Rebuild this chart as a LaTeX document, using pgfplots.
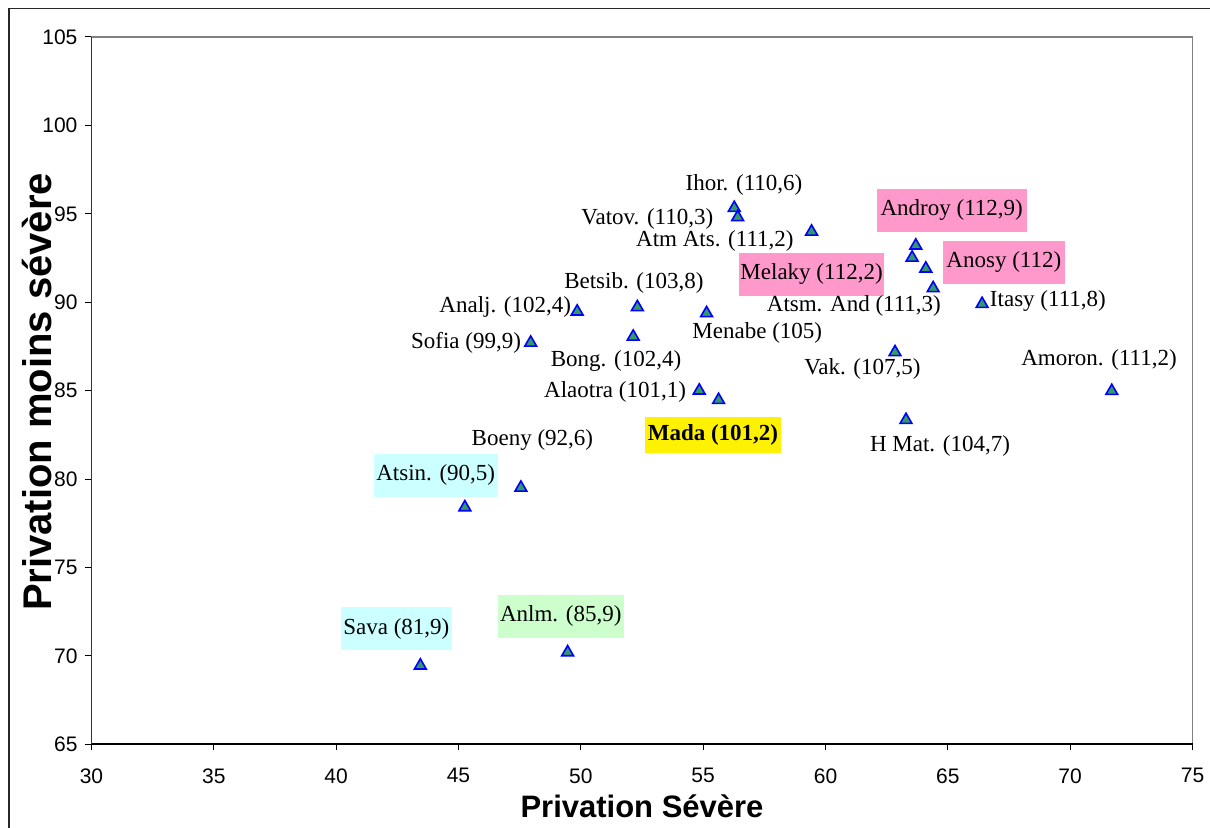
\documentclass[border=0pt]{standalone}
\usepackage{pgfplots}
\pgfplotsset{compat=1.18}
\usepackage{pgfplotstable}
\usepackage{fontspec}
\setmainfont{Liberation Serif}
\newfontfamily\arial{Liberation Sans}
\definecolor{mkgreen}{HTML}{339966}
\definecolor{pinkbox}{HTML}{FF99CC}
\definecolor{cyanbox}{HTML}{CCFFFF}
\definecolor{greenbox}{HTML}{CCFFCC}
\pgfplotstableread{
x y
56.27 95.33
56.41 94.81
59.43 93.99
63.69 93.20
63.54 92.52
64.10 91.90
64.40 90.79
66.40 89.90
49.85 89.47
52.31 89.72
55.14 89.38
52.14 88.05
47.95 87.71
62.84 87.17
54.84 85.00
55.63 84.47
71.70 84.98
63.29 83.34
47.55 79.51
45.26 78.40
49.46 70.20
43.44 69.45
}\pts
\begin{document}
\begin{tikzpicture}[x=1pt,y=1pt,
 labelbox/.style={inner sep=0pt, minimum height=21.3pt},
 lab/.style={inner sep=0pt, font=\fontsize{11.5}{13}\selectfont}]
\useasboundingbox (0,0) rectangle (605,414);
\draw[line width=0.8pt, black!85] (4.6,-10) rectangle (620,409.8);
\begin{axis}[
 at={(45.75pt,41.85pt)}, anchor=south west, scale only axis,
 width=550.5pt, height=353.65pt,
 xmin=30,xmax=75,ymin=65,ymax=105,
 xtick={30,35,...,75}, ytick={65,70,...,105},
 tick align=outside, major tick length=3pt,
 xtick pos=bottom, ytick pos=left,
 axis line style={draw=gray, line width=0.7pt},
 tick style={black, line width=0.5pt},
 ticklabel style={font=\arial\fontsize{10.5}{12}\selectfont},
 xticklabel style={yshift=-5.5pt},
 yticklabel style={xshift=-0.5pt},
 /pgf/number format/assume math mode=true,
 clip=false,
]
\draw[black, line width=0.8pt] (rel axis cs:0,0) -- (rel axis cs:1,0);
\draw[black!80, line width=0.6pt] (rel axis cs:0,0) -- (rel axis cs:0,1);
% boxed labels
\node[labelbox, fill=pinkbox, minimum width=72.5pt, lab] at (axis cs:59.43,91.57) {Melaky (112,2)};
\node[labelbox, fill=pinkbox, minimum width=75pt, lab] at (axis cs:65.16,95.20) {Androy (112,9)};
\node[labelbox, fill=pinkbox, minimum width=61pt, lab] at (axis cs:67.29,92.26) {Anosy (112)};
\node[labelbox, fill=yellow, minimum width=68pt, minimum height=18pt, lab] at (axis cs:55.40,82.47) {\bfseries Mada (101,2)};
\node[labelbox, fill=cyanbox, minimum width=61.8pt, lab] at (axis cs:44.07,80.21) {Atsin. (90,5)};
\node[labelbox, fill=cyanbox, minimum width=55.3pt, lab] at (axis cs:42.46,71.54) {Sava (81,9)};
\node[labelbox, fill=greenbox, minimum width=63.2pt, lab] at (axis cs:49.18,72.24) {Anlm. (85,9)};
% plain labels
\node[lab] at (axis cs:56.67,96.63) {Ihor. (110,6)};
\node[lab] at (axis cs:52.72,94.69) {Vatov. (110,3)};
\node[lab] at (axis cs:55.48,93.48) {Atm Ats. (111,2)};
\node[lab] at (axis cs:52.17,91.10) {Betsib. (103,8)};
\node[lab] at (axis cs:57.21,88.24) {Menabe (105)};
\node[lab] at (axis cs:61.16,89.79) {Atsm. And (111,3)};
\node[lab] at (axis cs:69.09,90.07) {Itasy (111,8)};
\node[lab] at (axis cs:71.18,86.73) {Amoron. (111,2)};
\node[lab] at (axis cs:61.51,86.22) {Vak. (107,5)};
\node[lab] at (axis cs:64.68,81.87) {H Mat. (104,7)};
\node[lab] at (axis cs:51.40,84.94) {Alaotra (101,1)};
\node[lab] at (axis cs:51.44,86.69) {Bong. (102,4)};
\node[lab] at (axis cs:45.31,87.71) {Sofia (99,9)};
\node[lab] at (axis cs:46.91,89.71) {Analj. (102,4)};
\node[lab] at (axis cs:48.02,82.21) {Boeny (92,6)};
\addplot[only marks, mark=triangle*, mark size=3.4pt,
  mark options={fill=mkgreen, draw=blue, line width=0.8pt}] table[x=x,y=y] {\pts};
\end{axis}
\node[font=\arial\bfseries\fontsize{15.5}{18}\selectfont, anchor=base] at (321,5.2) {Privation Sévère};
\node[font=\arial\bfseries\fontsize{20}{22}\selectfont, rotate=90, inner sep=0pt] at (18.5,218) {Privation moins sévère};
\end{tikzpicture}
\end{document}
